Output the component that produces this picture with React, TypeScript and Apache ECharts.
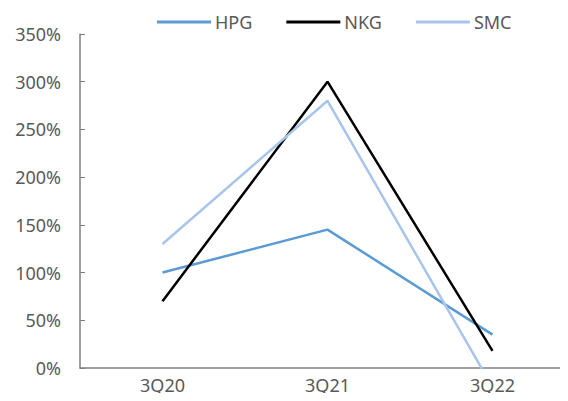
import React, { useEffect, useRef } from "react";
import * as echarts from "echarts";

const categories = ["3Q20", "3Q21", "3Q22"];
const hpg = [100, 145, 35];
const nkg = [70, 300, 18];
const smc = [130, 280, -20];
const yTicks = [0, 50, 100, 150, 200, 250, 300, 350];

const FONT = "'Noto Sans', 'Open Sans', sans-serif";
const TXT = "#595959";

export default function App() {
  const ref = useRef<HTMLDivElement>(null);
  useEffect(() => {
    if (!ref.current) return;
    const chart = echarts.init(ref.current, null, { renderer: "svg" });
    const mk = (name: string, data: number[], color: string) => ({
      name,
      type: "line",
      data,
      symbol: "none",
      lineStyle: { color, width: 2.5 },
      itemStyle: { color },
      clip: true,
    });
    chart.setOption({
      animation: false,
      backgroundColor: "#ffffff",
      textStyle: { fontFamily: FONT },
      legend: {
        top: 13,
        left: 157,
        padding: 0,
        itemWidth: 54,
        itemHeight: 3,
        itemGap: 34,
        icon: "rect",
        textStyle: { color: TXT, fontSize: 18, fontFamily: FONT, padding: [0, 0, 0, -1] },
        data: ["HPG", "NKG", "SMC"],
      },
      grid: { left: 80, top: 34, width: 495, height: 334, outerBoundsMode: "none", containLabel: false },
      xAxis: {
        type: "category",
        data: categories,
        boundaryGap: true,
        axisLine: { lineStyle: { color: "#808080", width: 1.5 } },
        axisTick: { inside: true, length: 5, lineStyle: { color: "#808080" } },
        axisLabel: { color: TXT, fontSize: 18, fontFamily: FONT, margin: 7, lineHeight: 20 },
      },
      yAxis: {
        type: "value",
        min: yTicks[0],
        max: yTicks[yTicks.length - 1],
        interval: 50,
        axisLine: { show: true, lineStyle: { color: "#808080", width: 1.5 } },
        axisTick: { show: true, inside: true, length: 5, lineStyle: { color: "#808080" } },
        splitLine: { show: false },
        axisLabel: {
          color: TXT,
          fontSize: 18,
          fontFamily: FONT,
          margin: 19,
          formatter: (v: number) => `${v}%`,
        },
      },
      series: [
        mk("HPG", hpg, "#5B9BD5"),
        mk("NKG", nkg, "#000000"),
        mk("SMC", smc, "#A9C4EB"),
      ],
    });
    return () => chart.dispose();
  }, []);
  return <div ref={ref} style={{ width: 568, height: 401, margin: -8 }} />;
}
